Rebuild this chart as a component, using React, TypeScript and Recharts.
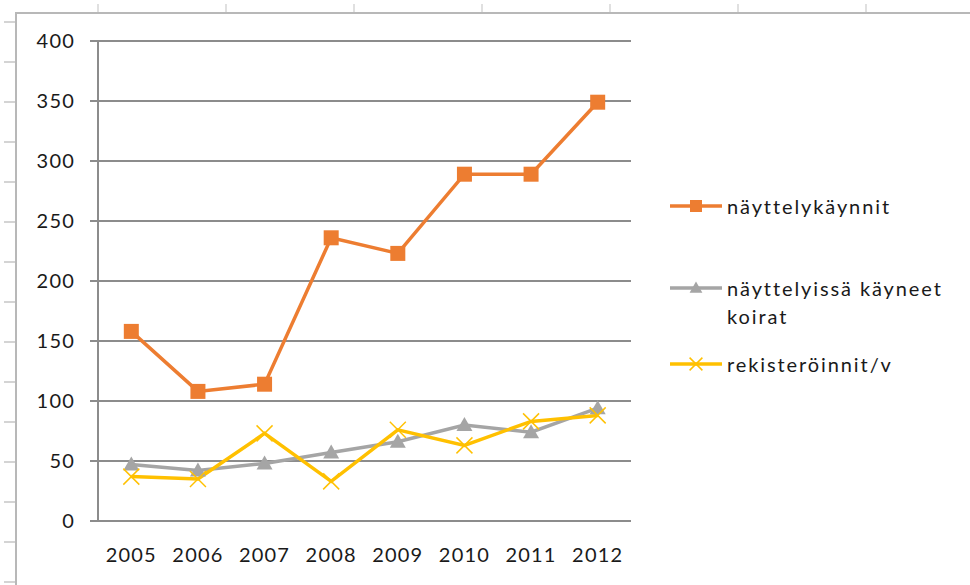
import { LineChart, Line, XAxis, YAxis, CartesianGrid } from 'recharts'

const YEARS = ['2005', '2006', '2007', '2008', '2009', '2010', '2011', '2012']
const NAYTTELYKAYNNIT = [158, 108, 114, 236, 223, 289, 289, 349]
const KAYNEET_KOIRAT = [47, 42, 48, 57, 66, 80, 74, 94]
const REKISTEROINNIT = [37, 35, 73, 33, 76, 63, 83, 88]
const Y_TICKS = [0, 50, 100, 150, 200, 250, 300, 350, 400]

const ORANGE = '#ED7D31'
const GRAY = '#A5A5A5'
const YELLOW = '#FFC000'
const AXIS = '#8c8c8c'
const FONT = 'Lato, "Open Sans", sans-serif'

const data = YEARS.map((year, i) => ({
  x: i + 0.5,
  year,
  kaynnit: NAYTTELYKAYNNIT[i],
  koirat: KAYNEET_KOIRAT[i],
  rek: REKISTEROINNIT[i],
}))

const SERIES = [
  { key: 'kaynnit', name: 'näyttelykäynnit', color: ORANGE, marker: 'square' },
  { key: 'koirat', name: 'näyttelyissä käyneet koirat', color: GRAY, marker: 'triangle' },
  { key: 'rek', name: 'rekisteröinnit/v', color: YELLOW, marker: 'x' },
]

function Marker({ type, cx, cy, color, s = 1 }: { type: string; cx: number; cy: number; color: string; s?: number }) {
  if (type === 'square') return <rect x={cx - 7.5 * s} y={cy - 7.5 * s} width={15 * s} height={15 * s} fill={color} />
  if (type === 'triangle')
    return <polygon points={`${cx},${cy - 8 * s} ${cx - 8 * s},${cy + 6 * s} ${cx + 8 * s},${cy + 6 * s}`} fill={color} />
  const r = 8 * s
  return (
    <g stroke={color} strokeWidth={1.5}>
      <line x1={cx - r} y1={cy - r} x2={cx + r} y2={cy + r} />
      <line x1={cx - r} y1={cy + r} x2={cx + r} y2={cy - r} />
    </g>
  )
}

function Legend() {
  const rows = [
    { s: SERIES[0], top: 194, lines: ['näyttelykäynnit'] },
    { s: SERIES[1], top: 276, lines: ['näyttelyissä käyneet', 'koirat'] },
    { s: SERIES[2], top: 352, lines: ['rekisteröinnit/v'] },
  ]
  return (
    <>
      {rows.map(({ s, top, lines }) => (
        <div key={s.key} style={{ position: 'absolute', left: 668, top, display: 'flex', alignItems: 'flex-start' }}>
          <svg width={56} height={24} style={{ flex: 'none' }}>
            <line x1={2} y1={12} x2={54} y2={12} stroke={s.color} strokeWidth={3.5} />
            <Marker type={s.marker} cx={28} cy={12} color={s.color} s={0.8} />
          </svg>
          <div style={{ fontFamily: FONT, fontSize: 20, color: '#1a1a1a', lineHeight: '28px', marginTop: -2, marginLeft: 3, letterSpacing: 1.9 }}>
            {lines.map((l) => <div key={l}>{l}</div>)}
          </div>
        </div>
      ))}
    </>
  )
}

export default function App() {
  const tickStyle = { fontFamily: FONT, fontSize: 20, fill: '#1a1a1a', letterSpacing: 1.2 }
  return (
    <div style={{ position: 'absolute', left: 0, top: 0, width: 970, height: 585, background: '#fff', overflow: 'hidden' }}>
      {/* sheet frame */}
      <div style={{ position: 'absolute', left: 15, top: 12, right: -10, bottom: -10, borderLeft: '2px solid #b8b8b8', borderTop: '2px solid #b8b8b8' }} />
      {Array.from({ length: 15 }, (_, k) => (
        <div key={'l' + k} style={{ position: 'absolute', left: 4, top: 21 + 40 * k, width: 11, height: 2, background: '#d4d4d4' }} />
      ))}
      {Array.from({ length: 7 }, (_, k) => (
        <div key={'t' + k} style={{ position: 'absolute', left: 97 + 128 * k, top: 4, width: 2, height: 8, background: '#e0e0e0' }} />
      ))}
      <LineChart width={970} height={585} data={data} margin={{ top: 41, right: 339, bottom: 0, left: 0 }} style={{ position: 'absolute', left: 0, top: 0 }}>
        <CartesianGrid vertical={false} stroke={AXIS} strokeWidth={2} />
        <XAxis
          xAxisId="frame"
          type="number"
          dataKey="x"
          domain={[0, 8]}
          ticks={[0, 1, 2, 3, 4, 5, 6, 7, 8]}
          height={0}
          tickSize={9}
          tickFormatter={() => ''}
          stroke={AXIS}
          strokeWidth={2}
        />
        <XAxis
          xAxisId="year"
          type="number"
          dataKey="x"
          domain={[0, 8]}
          ticks={data.map((d) => d.x)}
          interval={0}
          tickFormatter={(v) => YEARS[Math.floor(v)]}
          height={64}
          axisLine={false}
          tickLine={false}
          tickSize={0}
          tickMargin={27}
          tick={tickStyle}
        />
        <YAxis
          domain={[0, 400]}
          ticks={Y_TICKS}
          interval={0}
          width={98}
          tickSize={8}
          tickMargin={15}
          stroke={AXIS}
          strokeWidth={2}
          tick={tickStyle}
        />
        {SERIES.map((s) => (
          <Line
            key={s.key}
            xAxisId="year"
            dataKey={s.key}
            name={s.name}
            stroke={s.color}
            strokeWidth={3.5}
            isAnimationActive={false}
            dot={(p: any) => <Marker key={p.index} type={s.marker} cx={p.cx} cy={p.cy} color={s.color} />}
            activeDot={false}
          />
        ))}
      </LineChart>
      <Legend />
    </div>
  )
}
